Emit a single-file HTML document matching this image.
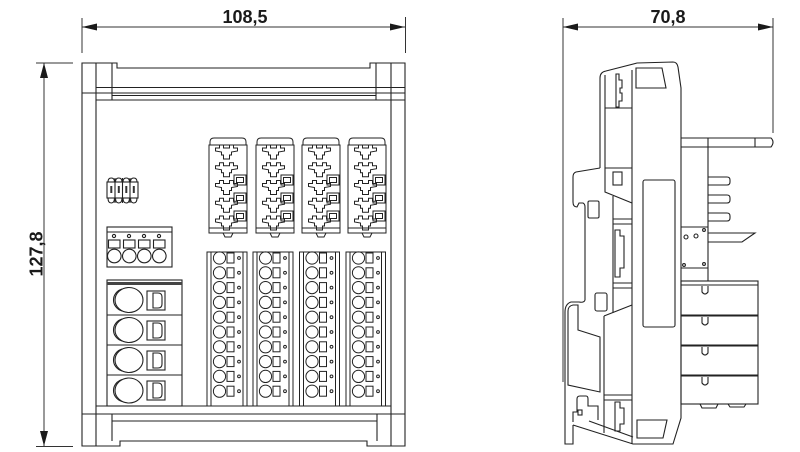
<!DOCTYPE html>
<html><head><meta charset="utf-8">
<style>
html,body{margin:0;padding:0;background:#fff;}
svg{display:block}
text{font-family:"Liberation Sans",Arial,sans-serif;font-weight:bold;fill:#1a1a1a}
</style></head>
<body>
<svg width="800" height="452" viewBox="0 0 800 452" xmlns="http://www.w3.org/2000/svg">

<!-- ============ DIMENSIONS ============ -->
<g stroke="#333" stroke-width="1" fill="none">
  <line x1="82" y1="27" x2="405" y2="27"/>
  <line x1="82" y1="18" x2="82" y2="53"/>
  <line x1="405.5" y1="17" x2="405.5" y2="53"/>
  <line x1="44" y1="63" x2="44" y2="446"/>
  <line x1="36" y1="63" x2="73" y2="63"/>
  <line x1="36" y1="446.5" x2="73" y2="446.5"/>
  <line x1="563" y1="27" x2="773" y2="27"/>
  <line x1="563" y1="18" x2="563" y2="382"/>
  <line x1="773" y1="18" x2="773" y2="133"/>
</g>
<g fill="#1a1a1a" stroke="none">
  <polygon points="82,27 97,23.5 97,30.5"/>
  <polygon points="405,27 390,23.5 390,30.5"/>
  <polygon points="44,63 40,78 48,78"/>
  <polygon points="44,446 40,431 48,431"/>
  <polygon points="563,27 578,23.5 578,30.5"/>
  <polygon points="773,27 758,23.5 758,30.5"/>
</g>
<text x="245" y="23" font-size="18" text-anchor="middle">108,5</text>
<text x="668" y="23" font-size="18" text-anchor="middle">70,8</text>
<text transform="translate(42.5,254) rotate(-90)" font-size="18" text-anchor="middle">127,8</text>

<!-- ============ FRONT VIEW ============ -->
<g fill="none" stroke="#222" stroke-width="1.1">
  <path d="M82,63 H117 V68 H370 V63 H405 V446 H367 V441 H120 V446 H82 Z"/>
  <line x1="96" y1="63" x2="96" y2="446"/>
  <line x1="391" y1="63" x2="391" y2="446"/>
  <line x1="112" y1="63" x2="112" y2="100"/>
  <line x1="376" y1="63" x2="376" y2="100"/>
  <line x1="96" y1="87.5" x2="405" y2="87.5"/>
  <line x1="82" y1="93" x2="405" y2="93"/>
  <line x1="112" y1="95.5" x2="376" y2="95.5"/>
  <line x1="96" y1="100" x2="405" y2="100"/>
  <line x1="96" y1="406" x2="391" y2="406"/>
  <line x1="82" y1="414" x2="405" y2="414"/>
  <line x1="112" y1="421" x2="377" y2="421"/>
  <line x1="112" y1="414" x2="112" y2="441"/>
  <line x1="377" y1="414" x2="377" y2="441"/>

  <!-- DIP switch -->
  <rect x="107" y="182" width="31" height="16"/>
  <path d="M108,182 Q108,178 111.25,178 Q114.5,178 114.5,182 M108,198 Q108,203 111.25,203 Q114.5,203 114.5,198"/>
  <path d="M115.5,182 Q115.5,178 118.75,178 Q122,178 122,182 M115.5,198 Q115.5,203 118.75,203 Q122,203 122,198"/>
  <path d="M123,182 Q123,178 126.25,178 Q129.5,178 129.5,182 M123,198 Q123,203 126.25,203 Q129.5,203 129.5,198"/>
  <path d="M130.5,182 Q130.5,178 133.75,178 Q137,178 137,182 M130.5,198 Q130.5,203 133.75,203 Q137,203 137,198"/>
  <line x1="115" y1="178" x2="115" y2="203"/>
  <line x1="122.5" y1="178" x2="122.5" y2="203"/>
  <line x1="130" y1="178" x2="130" y2="203"/>

  <!-- 4 pos terminal -->
  <rect x="107" y="227" width="65" height="40"/>
  <line x1="107" y1="232" x2="172" y2="232"/>
  <circle cx="114" cy="236" r="1.6"/><circle cx="129" cy="236" r="1.6"/><circle cx="144" cy="236" r="1.6"/><circle cx="159" cy="236" r="1.6"/>
  <rect x="108.5" y="240" width="11.5" height="8"/><rect x="123.5" y="240" width="11.5" height="8"/><rect x="138.5" y="240" width="11.5" height="8"/><rect x="153.5" y="240" width="11.5" height="8"/>
  <circle cx="114.3" cy="256" r="6.8"/><circle cx="129.3" cy="256" r="6.8"/><circle cx="144.3" cy="256" r="6.8"/><circle cx="159.3" cy="256" r="6.8"/>

  <!-- lever block -->
  <rect x="107" y="280" width="75" height="126"/>
  <line x1="107" y1="315" x2="182" y2="315"/>
  <line x1="107" y1="345" x2="182" y2="345"/>
  <line x1="107" y1="375" x2="182" y2="375"/>

  <ellipse cx="129" cy="300" rx="14" ry="12.5"/>
  <path d="M122,289 A12,11.5 0 0 0 122,311"/>
  <rect x="147" y="291" width="18" height="19"/>
  <path d="M153,293 L158,293 Q162,293 162,297 L162,304 Q162,308 158,308 L153,308 Z"/>

  <ellipse cx="129" cy="330" rx="14" ry="12.5"/>
  <path d="M122,319 A12,11.5 0 0 0 122,341"/>
  <rect x="147" y="321" width="18" height="19"/>
  <path d="M153,323 L158,323 Q162,323 162,327 L162,334 Q162,338 158,338 L153,338 Z"/>

  <ellipse cx="129" cy="360" rx="14" ry="12.5"/>
  <path d="M122,349 A12,11.5 0 0 0 122,371"/>
  <rect x="147" y="351" width="18" height="19"/>
  <path d="M153,353 L158,353 Q162,353 162,357 L162,364 Q162,368 158,368 L153,368 Z"/>

  <ellipse cx="129" cy="390.5" rx="14" ry="12.5"/>
  <path d="M122,379.5 A12,11.5 0 0 0 122,401.5"/>
  <rect x="147" y="381" width="18" height="19"/>
  <path d="M153,383 L158,383 Q162,383 162,387 L162,394 Q162,398 158,398 L153,398 Z"/>
</g>
<rect x="107" y="282" width="75" height="3" fill="#444"/>
<g fill="#333">
  <rect x="110.3" y="186" width="2" height="7"/><rect x="117.8" y="186" width="2" height="7"/><rect x="125.3" y="186" width="2" height="7"/><rect x="132.8" y="186" width="2" height="7"/>
</g>

<!-- upper modules -->
<g fill="none" stroke="#222" stroke-width="1">
  <g transform="translate(209,0)">
    <path d="M1,145 L1,142 Q1,138 5,138 L33,138 Q37,138 37,142 L37,145"/>
    <rect x="0" y="145" width="38" height="88"/>
    <line x1="0" y1="228" x2="38" y2="228"/>
    <path d="M14,233 L16,237 L22,237 L24,233"/>
    <path transform="translate(17.5,152)" d="M-11,-4 L-7,-4 L-7,-7 L-3,-7 L-3,-4 L3,-4 L3,-7 L7,-7 L7,-4 L11,-4 L11,-1 L5,0 L5,3 L3,3 L3,7 L-3,7 L-3,3 L-5,3 L-5,0 L-11,-1 Z"/>
    <path transform="translate(17.5,169.75)" d="M-11,-4 L-7,-4 L-7,-7 L-3,-7 L-3,-4 L3,-4 L3,-7 L7,-7 L7,-4 L11,-4 L11,-1 L5,0 L5,3 L3,3 L3,7 L-3,7 L-3,3 L-5,3 L-5,0 L-11,-1 Z"/>
    <path transform="translate(17.5,187.5)" d="M-11,-4 L-7,-4 L-7,-7 L-3,-7 L-3,-4 L3,-4 L3,-7 L7,-7 L7,-4 L11,-4 L11,-1 L5,0 L5,3 L3,3 L3,7 L-3,7 L-3,3 L-5,3 L-5,0 L-11,-1 Z"/>
    <path transform="translate(17.5,205.25)" d="M-11,-4 L-7,-4 L-7,-7 L-3,-7 L-3,-4 L3,-4 L3,-7 L7,-7 L7,-4 L11,-4 L11,-1 L5,0 L5,3 L3,3 L3,7 L-3,7 L-3,3 L-5,3 L-5,0 L-11,-1 Z"/>
    <path transform="translate(17.5,223)" d="M-11,-4 L-7,-4 L-7,-7 L-3,-7 L-3,-4 L3,-4 L3,-7 L7,-7 L7,-4 L11,-4 L11,-1 L5,0 L5,3 L3,3 L3,7 L-3,7 L-3,3 L-5,3 L-5,0 L-11,-1 Z"/>
    <rect x="25" y="175" width="12" height="10"/><rect x="27.5" y="177.5" width="7" height="5"/>
    <rect x="25" y="193" width="12" height="10"/><rect x="27.5" y="195.5" width="7" height="5"/>
    <rect x="25" y="211" width="12" height="10"/><rect x="27.5" y="213.5" width="7" height="5"/>
  </g>
  <g transform="translate(256,0)">
    <path d="M1,145 L1,142 Q1,138 5,138 L33,138 Q37,138 37,142 L37,145"/>
    <rect x="0" y="145" width="38" height="88"/>
    <line x1="0" y1="228" x2="38" y2="228"/>
    <path d="M14,233 L16,237 L22,237 L24,233"/>
    <path transform="translate(17.5,152)" d="M-11,-4 L-7,-4 L-7,-7 L-3,-7 L-3,-4 L3,-4 L3,-7 L7,-7 L7,-4 L11,-4 L11,-1 L5,0 L5,3 L3,3 L3,7 L-3,7 L-3,3 L-5,3 L-5,0 L-11,-1 Z"/>
    <path transform="translate(17.5,169.75)" d="M-11,-4 L-7,-4 L-7,-7 L-3,-7 L-3,-4 L3,-4 L3,-7 L7,-7 L7,-4 L11,-4 L11,-1 L5,0 L5,3 L3,3 L3,7 L-3,7 L-3,3 L-5,3 L-5,0 L-11,-1 Z"/>
    <path transform="translate(17.5,187.5)" d="M-11,-4 L-7,-4 L-7,-7 L-3,-7 L-3,-4 L3,-4 L3,-7 L7,-7 L7,-4 L11,-4 L11,-1 L5,0 L5,3 L3,3 L3,7 L-3,7 L-3,3 L-5,3 L-5,0 L-11,-1 Z"/>
    <path transform="translate(17.5,205.25)" d="M-11,-4 L-7,-4 L-7,-7 L-3,-7 L-3,-4 L3,-4 L3,-7 L7,-7 L7,-4 L11,-4 L11,-1 L5,0 L5,3 L3,3 L3,7 L-3,7 L-3,3 L-5,3 L-5,0 L-11,-1 Z"/>
    <path transform="translate(17.5,223)" d="M-11,-4 L-7,-4 L-7,-7 L-3,-7 L-3,-4 L3,-4 L3,-7 L7,-7 L7,-4 L11,-4 L11,-1 L5,0 L5,3 L3,3 L3,7 L-3,7 L-3,3 L-5,3 L-5,0 L-11,-1 Z"/>
    <rect x="25" y="175" width="12" height="10"/><rect x="27.5" y="177.5" width="7" height="5"/>
    <rect x="25" y="193" width="12" height="10"/><rect x="27.5" y="195.5" width="7" height="5"/>
    <rect x="25" y="211" width="12" height="10"/><rect x="27.5" y="213.5" width="7" height="5"/>
  </g>
  <g transform="translate(302,0)">
    <path d="M1,145 L1,142 Q1,138 5,138 L33,138 Q37,138 37,142 L37,145"/>
    <rect x="0" y="145" width="38" height="88"/>
    <line x1="0" y1="228" x2="38" y2="228"/>
    <path d="M14,233 L16,237 L22,237 L24,233"/>
    <path transform="translate(17.5,152)" d="M-11,-4 L-7,-4 L-7,-7 L-3,-7 L-3,-4 L3,-4 L3,-7 L7,-7 L7,-4 L11,-4 L11,-1 L5,0 L5,3 L3,3 L3,7 L-3,7 L-3,3 L-5,3 L-5,0 L-11,-1 Z"/>
    <path transform="translate(17.5,169.75)" d="M-11,-4 L-7,-4 L-7,-7 L-3,-7 L-3,-4 L3,-4 L3,-7 L7,-7 L7,-4 L11,-4 L11,-1 L5,0 L5,3 L3,3 L3,7 L-3,7 L-3,3 L-5,3 L-5,0 L-11,-1 Z"/>
    <path transform="translate(17.5,187.5)" d="M-11,-4 L-7,-4 L-7,-7 L-3,-7 L-3,-4 L3,-4 L3,-7 L7,-7 L7,-4 L11,-4 L11,-1 L5,0 L5,3 L3,3 L3,7 L-3,7 L-3,3 L-5,3 L-5,0 L-11,-1 Z"/>
    <path transform="translate(17.5,205.25)" d="M-11,-4 L-7,-4 L-7,-7 L-3,-7 L-3,-4 L3,-4 L3,-7 L7,-7 L7,-4 L11,-4 L11,-1 L5,0 L5,3 L3,3 L3,7 L-3,7 L-3,3 L-5,3 L-5,0 L-11,-1 Z"/>
    <path transform="translate(17.5,223)" d="M-11,-4 L-7,-4 L-7,-7 L-3,-7 L-3,-4 L3,-4 L3,-7 L7,-7 L7,-4 L11,-4 L11,-1 L5,0 L5,3 L3,3 L3,7 L-3,7 L-3,3 L-5,3 L-5,0 L-11,-1 Z"/>
    <rect x="25" y="175" width="12" height="10"/><rect x="27.5" y="177.5" width="7" height="5"/>
    <rect x="25" y="193" width="12" height="10"/><rect x="27.5" y="195.5" width="7" height="5"/>
    <rect x="25" y="211" width="12" height="10"/><rect x="27.5" y="213.5" width="7" height="5"/>
  </g>
  <g transform="translate(348,0)">
    <path d="M1,145 L1,142 Q1,138 5,138 L33,138 Q37,138 37,142 L37,145"/>
    <rect x="0" y="145" width="38" height="88"/>
    <line x1="0" y1="228" x2="38" y2="228"/>
    <path d="M14,233 L16,237 L22,237 L24,233"/>
    <path transform="translate(17.5,152)" d="M-11,-4 L-7,-4 L-7,-7 L-3,-7 L-3,-4 L3,-4 L3,-7 L7,-7 L7,-4 L11,-4 L11,-1 L5,0 L5,3 L3,3 L3,7 L-3,7 L-3,3 L-5,3 L-5,0 L-11,-1 Z"/>
    <path transform="translate(17.5,169.75)" d="M-11,-4 L-7,-4 L-7,-7 L-3,-7 L-3,-4 L3,-4 L3,-7 L7,-7 L7,-4 L11,-4 L11,-1 L5,0 L5,3 L3,3 L3,7 L-3,7 L-3,3 L-5,3 L-5,0 L-11,-1 Z"/>
    <path transform="translate(17.5,187.5)" d="M-11,-4 L-7,-4 L-7,-7 L-3,-7 L-3,-4 L3,-4 L3,-7 L7,-7 L7,-4 L11,-4 L11,-1 L5,0 L5,3 L3,3 L3,7 L-3,7 L-3,3 L-5,3 L-5,0 L-11,-1 Z"/>
    <path transform="translate(17.5,205.25)" d="M-11,-4 L-7,-4 L-7,-7 L-3,-7 L-3,-4 L3,-4 L3,-7 L7,-7 L7,-4 L11,-4 L11,-1 L5,0 L5,3 L3,3 L3,7 L-3,7 L-3,3 L-5,3 L-5,0 L-11,-1 Z"/>
    <path transform="translate(17.5,223)" d="M-11,-4 L-7,-4 L-7,-7 L-3,-7 L-3,-4 L3,-4 L3,-7 L7,-7 L7,-4 L11,-4 L11,-1 L5,0 L5,3 L3,3 L3,7 L-3,7 L-3,3 L-5,3 L-5,0 L-11,-1 Z"/>
    <rect x="25" y="175" width="12" height="10"/><rect x="27.5" y="177.5" width="7" height="5"/>
    <rect x="25" y="193" width="12" height="10"/><rect x="27.5" y="195.5" width="7" height="5"/>
    <rect x="25" y="211" width="12" height="10"/><rect x="27.5" y="213.5" width="7" height="5"/>
  </g>
</g>

<!-- lower columns -->
<g fill="none" stroke="#222" stroke-width="1">
  <g transform="translate(207,0)">
    <rect x="0" y="252" width="40" height="154"/>
    <line x1="4" y1="252" x2="4" y2="406"/><line x1="36" y1="252" x2="36" y2="406"/>
    <circle cx="12.5" cy="258" r="6.1"/><rect x="20" y="253" width="7" height="10"/><circle cx="32" cy="258" r="1.4"/>
    <circle cx="12.5" cy="272.8" r="6.1"/><rect x="20" y="267.8" width="7" height="10"/><circle cx="32" cy="272.8" r="1.4"/>
    <circle cx="12.5" cy="287.6" r="6.1"/><rect x="20" y="282.6" width="7" height="10"/><circle cx="32" cy="287.6" r="1.4"/>
    <circle cx="12.5" cy="302.4" r="6.1"/><rect x="20" y="297.4" width="7" height="10"/><circle cx="32" cy="302.4" r="1.4"/>
    <circle cx="12.5" cy="317.2" r="6.1"/><rect x="20" y="312.2" width="7" height="10"/><circle cx="32" cy="317.2" r="1.4"/>
    <circle cx="12.5" cy="332" r="6.1"/><rect x="20" y="327" width="7" height="10"/><circle cx="32" cy="332" r="1.4"/>
    <circle cx="12.5" cy="346.8" r="6.1"/><rect x="20" y="341.8" width="7" height="10"/><circle cx="32" cy="346.8" r="1.4"/>
    <circle cx="12.5" cy="361.6" r="6.1"/><rect x="20" y="356.6" width="7" height="10"/><circle cx="32" cy="361.6" r="1.4"/>
    <circle cx="12.5" cy="376.4" r="6.1"/><rect x="20" y="371.4" width="7" height="10"/><circle cx="32" cy="376.4" r="1.4"/>
    <circle cx="12.5" cy="391.2" r="6.1"/><rect x="20" y="386.2" width="7" height="10"/><circle cx="32" cy="391.2" r="1.4"/>
  </g>
  <g transform="translate(253,0)">
    <rect x="0" y="252" width="40" height="154"/>
    <line x1="4" y1="252" x2="4" y2="406"/><line x1="36" y1="252" x2="36" y2="406"/>
    <circle cx="12.5" cy="258" r="6.1"/><rect x="20" y="253" width="7" height="10"/><circle cx="32" cy="258" r="1.4"/>
    <circle cx="12.5" cy="272.8" r="6.1"/><rect x="20" y="267.8" width="7" height="10"/><circle cx="32" cy="272.8" r="1.4"/>
    <circle cx="12.5" cy="287.6" r="6.1"/><rect x="20" y="282.6" width="7" height="10"/><circle cx="32" cy="287.6" r="1.4"/>
    <circle cx="12.5" cy="302.4" r="6.1"/><rect x="20" y="297.4" width="7" height="10"/><circle cx="32" cy="302.4" r="1.4"/>
    <circle cx="12.5" cy="317.2" r="6.1"/><rect x="20" y="312.2" width="7" height="10"/><circle cx="32" cy="317.2" r="1.4"/>
    <circle cx="12.5" cy="332" r="6.1"/><rect x="20" y="327" width="7" height="10"/><circle cx="32" cy="332" r="1.4"/>
    <circle cx="12.5" cy="346.8" r="6.1"/><rect x="20" y="341.8" width="7" height="10"/><circle cx="32" cy="346.8" r="1.4"/>
    <circle cx="12.5" cy="361.6" r="6.1"/><rect x="20" y="356.6" width="7" height="10"/><circle cx="32" cy="361.6" r="1.4"/>
    <circle cx="12.5" cy="376.4" r="6.1"/><rect x="20" y="371.4" width="7" height="10"/><circle cx="32" cy="376.4" r="1.4"/>
    <circle cx="12.5" cy="391.2" r="6.1"/><rect x="20" y="386.2" width="7" height="10"/><circle cx="32" cy="391.2" r="1.4"/>
  </g>
  <g transform="translate(299.5,0)">
    <rect x="0" y="252" width="40" height="154"/>
    <line x1="4" y1="252" x2="4" y2="406"/><line x1="36" y1="252" x2="36" y2="406"/>
    <circle cx="12.5" cy="258" r="6.1"/><rect x="20" y="253" width="7" height="10"/><circle cx="32" cy="258" r="1.4"/>
    <circle cx="12.5" cy="272.8" r="6.1"/><rect x="20" y="267.8" width="7" height="10"/><circle cx="32" cy="272.8" r="1.4"/>
    <circle cx="12.5" cy="287.6" r="6.1"/><rect x="20" y="282.6" width="7" height="10"/><circle cx="32" cy="287.6" r="1.4"/>
    <circle cx="12.5" cy="302.4" r="6.1"/><rect x="20" y="297.4" width="7" height="10"/><circle cx="32" cy="302.4" r="1.4"/>
    <circle cx="12.5" cy="317.2" r="6.1"/><rect x="20" y="312.2" width="7" height="10"/><circle cx="32" cy="317.2" r="1.4"/>
    <circle cx="12.5" cy="332" r="6.1"/><rect x="20" y="327" width="7" height="10"/><circle cx="32" cy="332" r="1.4"/>
    <circle cx="12.5" cy="346.8" r="6.1"/><rect x="20" y="341.8" width="7" height="10"/><circle cx="32" cy="346.8" r="1.4"/>
    <circle cx="12.5" cy="361.6" r="6.1"/><rect x="20" y="356.6" width="7" height="10"/><circle cx="32" cy="361.6" r="1.4"/>
    <circle cx="12.5" cy="376.4" r="6.1"/><rect x="20" y="371.4" width="7" height="10"/><circle cx="32" cy="376.4" r="1.4"/>
    <circle cx="12.5" cy="391.2" r="6.1"/><rect x="20" y="386.2" width="7" height="10"/><circle cx="32" cy="391.2" r="1.4"/>
  </g>
  <g transform="translate(346,0)">
    <rect x="0" y="252" width="39.5" height="154"/>
    <line x1="4" y1="252" x2="4" y2="406"/><line x1="35.5" y1="252" x2="35.5" y2="406"/>
    <circle cx="12.5" cy="258" r="6.1"/><rect x="20" y="253" width="7" height="10"/><circle cx="32" cy="258" r="1.4"/>
    <circle cx="12.5" cy="272.8" r="6.1"/><rect x="20" y="267.8" width="7" height="10"/><circle cx="32" cy="272.8" r="1.4"/>
    <circle cx="12.5" cy="287.6" r="6.1"/><rect x="20" y="282.6" width="7" height="10"/><circle cx="32" cy="287.6" r="1.4"/>
    <circle cx="12.5" cy="302.4" r="6.1"/><rect x="20" y="297.4" width="7" height="10"/><circle cx="32" cy="302.4" r="1.4"/>
    <circle cx="12.5" cy="317.2" r="6.1"/><rect x="20" y="312.2" width="7" height="10"/><circle cx="32" cy="317.2" r="1.4"/>
    <circle cx="12.5" cy="332" r="6.1"/><rect x="20" y="327" width="7" height="10"/><circle cx="32" cy="332" r="1.4"/>
    <circle cx="12.5" cy="346.8" r="6.1"/><rect x="20" y="341.8" width="7" height="10"/><circle cx="32" cy="346.8" r="1.4"/>
    <circle cx="12.5" cy="361.6" r="6.1"/><rect x="20" y="356.6" width="7" height="10"/><circle cx="32" cy="361.6" r="1.4"/>
    <circle cx="12.5" cy="376.4" r="6.1"/><rect x="20" y="371.4" width="7" height="10"/><circle cx="32" cy="376.4" r="1.4"/>
    <circle cx="12.5" cy="391.2" r="6.1"/><rect x="20" y="386.2" width="7" height="10"/><circle cx="32" cy="391.2" r="1.4"/>
  </g>
</g>

<!-- ============ SIDE VIEW ============ -->
<g fill="none" stroke="#222" stroke-width="1.1">
  <path d="M600,168 L600,78 Q600,72 606,71 L637,63 L673,62 Q677,62 678,67 L681,88 L681,418 L673,444 L633,444 L573,425"/>
  <path d="M589,421 L633,437"/>
  <line x1="632" y1="70" x2="632" y2="444"/>
  <path d="M605,75 L605,192 L632,203"/>
  <line x1="605" y1="108" x2="632" y2="108"/>
  <line x1="605" y1="168" x2="632" y2="168"/>
  <rect x="613" y="172" width="9" height="13"/>
  <path d="M616,74 L619,74 L619,80 L622,80 L622,88 L620,88 L620,93 L622,93 L622,101 L619,101 L619,107 L616,107 Z"/>
  <line x1="613" y1="196" x2="613" y2="313"/>
  <line x1="613" y1="219" x2="632" y2="219"/>
  <line x1="613" y1="224" x2="632" y2="224"/>
  <path d="M615,230 L620,230 L620,236 L624,236 L624,268 L620,268 L620,277 L615,277 Z"/>
  <line x1="613" y1="283" x2="632" y2="283"/>
  <line x1="613" y1="288" x2="632" y2="288"/>
  <path d="M604,316 L632,305"/>
  <line x1="604" y1="316" x2="604" y2="433"/>
  <line x1="604" y1="395" x2="632" y2="395"/>
  <line x1="604" y1="400" x2="632" y2="400"/>
  <path d="M615,402 L620,402 L620,408 L624,408 L624,424 L620,424 L620,431 L615,431 Z"/>
  <rect x="595" y="293" width="12" height="18" rx="2"/>
  <rect x="588" y="201" width="11" height="17" rx="1.5"/>

  <!-- left flange and clip -->
  <path d="M600,168 L576,172 Q573,173 573,177 L573,202 Q573,207 577,207 L579,203 L583,203 Q585,204 585,207 L585,300 Q584,303 579,302 L571,302 Q565,304 565,312 L565,444 L573,444 L573,425"/>
  <path d="M578,305 L578,330 L600,337 L600,392 L568,385 L568,311 Q568,306 573,305 Z"/>
  <path d="M573,422 L573,412 L577,412 L577,399 Q577,396 580,396 L586,396 Q588,396 588,399 L588,406 L598,406 L598,420"/>
  <rect x="578" y="410" width="4" height="5"/>

  <!-- windows -->
  <path d="M636,68 L662,68 L666,88 L636,88 Z"/>
  <rect x="643" y="180" width="32" height="147" rx="2"/>
  <path d="M637,420 L667,420 L663,438 L637,438 Z"/>

  <!-- right connectors -->
  <path d="M681,138 L771,138 Q775,142 771,147 L681,147"/>
  <line x1="755" y1="138" x2="755" y2="147"/>
  <line x1="708" y1="138" x2="708" y2="281"/>
  <path d="M708,177 L727,177 Q730,177 730,180 L730,182 Q730,185 727,185 L708,185"/>
  <path d="M708,195 L727,195 Q730,195 730,198 L730,200 Q730,203 727,203 L708,203"/>
  <path d="M708,213 L727,213 Q730,213 730,216 L730,218 Q730,221 727,221 L708,221"/>
  <path d="M708,233 L755,233 L742,242 L708,242"/>
  <line x1="681" y1="227" x2="708" y2="227"/>
  <line x1="681" y1="268" x2="708" y2="268"/>
  <circle cx="686" cy="237" r="2"/><circle cx="696" cy="236" r="2"/>
  <circle cx="704" cy="230" r="1.4"/><circle cx="684" cy="265" r="1.4"/><circle cx="704" cy="264" r="1.4"/>

  <!-- terminal rows -->
  <rect x="681" y="281" width="77" height="123"/>
  <line x1="681" y1="285" x2="758" y2="285"/>
  <line x1="681" y1="315.5" x2="758" y2="315.5" stroke-width="2"/>
  <line x1="681" y1="345.5" x2="758" y2="345.5" stroke-width="2"/>
  <line x1="681" y1="375.5" x2="758" y2="375.5" stroke-width="2"/>
  <path d="M702,286 L702,292 Q705,296 708,292 L708,286"/>
  <path d="M702,317 L702,323 Q705,327 708,323 L708,317"/>
  <path d="M702,347 L702,353 Q705,357 708,353 L708,347"/>
  <path d="M702,377 L702,383 Q705,387 708,383 L708,377"/>
  <path d="M700,404 L702,408 L716,408 L718,404"/>
  <path d="M728,404 L730,407 L744,407 L746,404"/>
</g>
</svg>
</body></html>
